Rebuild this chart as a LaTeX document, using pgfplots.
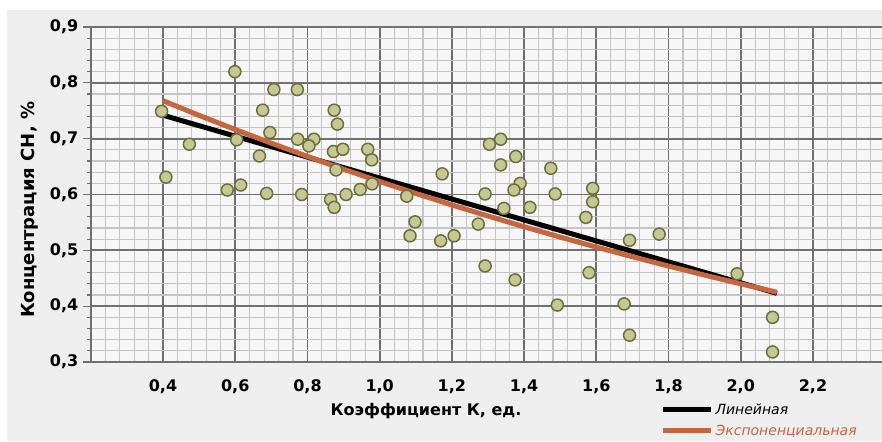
\documentclass[border=0pt]{standalone}
\usepackage{pgfplots}
\pgfplotsset{compat=1.18}
\usepackage{fontspec}
\setmainfont{DejaVu Sans}
\definecolor{bgc}{HTML}{EEEEEE}
\definecolor{plotbg}{HTML}{F6F6F6}
\definecolor{majgrid}{HTML}{707070}
\definecolor{mingrid}{HTML}{C4C4C4}
\definecolor{ptfill}{HTML}{C6C890}
\definecolor{ptedge}{HTML}{6B6E3E}
\definecolor{expc}{HTML}{C4663E}
\begin{document}
\begin{tikzpicture}
\fill[white] (0,0) rectangle (882pt,441pt);
\fill[bgc] (7pt,0) rectangle (882pt,431pt);
\begin{axis}[
  at={(90.8pt,79pt)}, anchor=south west,
  scale only axis, width=794.4pt, height=335pt,
  xmin=0.2, xmax=2.4, ymin=0.3, ymax=0.9,
  xtick={0.2,0.4,0.6,0.8,1.0,1.2,1.4,1.6,1.8,2.0,2.2,2.4},
  xticklabels={{},{0,4},{0,6},{0,8},{1,0},{1,2},{1,4},{1,6},{1,8},{2,0},{2,2},{}},
  ytick={0.3,0.4,0.5,0.6,0.7,0.8,0.9},
  yticklabels={{0,3},{0,4},{0,5},{0,6},{0,7},{0,8},{0,9}},
  minor x tick num=4, minor y tick num=4,
  grid=both,
  major grid style={draw=majgrid, line width=1.8pt},
  minor grid style={draw=mingrid, line width=1.1pt},
  axis line style={draw=majgrid, line width=1.8pt},
  axis background/.style={fill=plotbg},
  tick align=outside,
  major tick length=8pt, minor tick length=4pt,
  tick style={draw=majgrid, line width=1.3pt},
  xtick style={draw=none},
  ticklabel style={font=\bfseries\fontsize{16}{17}\selectfont},
  xticklabel style={yshift=-6pt},
  yticklabel style={xshift=-1pt},
  xlabel={Коэффициент К, ед.},
  ylabel={Концентрация CH, \%},
  xlabel style={font=\bfseries\fontsize{16}{18}\selectfont, at={(axis description cs:0.422,-0.146)}, anchor=center},
  ylabel style={font=\bfseries\fontsize{18}{20}\selectfont, at={(axis description cs:-0.0765,0.454)}, anchor=center, rotate=0},
  legend style={at={(axis description cs:0.717,-0.118)}, anchor=north west, draw=none, fill=none,
    font=\itshape\fontsize{14}{16}\selectfont, row sep=5pt, inner sep=0pt,
    nodes={inner sep=2pt, anchor=west}},
  legend image code/.code={\draw[#1] (0pt,0pt) -- (48pt,0pt);},
  legend cell align=left,
]
\addplot[only marks, mark=*, mark size=6pt, mark options={fill=ptfill, draw=ptedge, line width=1.5pt}, forget plot] coordinates {
(0.599,0.820) (0.707,0.788) (0.772,0.788) (0.676,0.751) (0.396,0.749)
(0.696,0.711) (0.604,0.698) (0.773,0.699) (0.818,0.699) (0.804,0.687)
(0.473,0.690) (0.667,0.669) (0.408,0.631) (0.578,0.608) (0.615,0.617)
(0.687,0.602) (0.784,0.600) (0.874,0.751) (0.883,0.726) (0.872,0.677)
(0.898,0.681) (0.967,0.681) (0.978,0.662) (0.879,0.644) (0.979,0.619)
(0.946,0.609) (0.907,0.600) (0.864,0.591) (0.874,0.577) (1.075,0.597)
(1.173,0.637) (1.098,0.551) (1.084,0.526) (1.169,0.517) (1.206,0.526)
(1.273,0.547) (1.304,0.690) (1.335,0.699) (1.377,0.668) (1.335,0.653)
(1.474,0.647) (1.389,0.620) (1.372,0.608) (1.292,0.601) (1.486,0.601)
(1.590,0.611) (1.590,0.587) (1.344,0.575) (1.416,0.577) (1.571,0.559)
(1.692,0.518) (1.292,0.472) (1.375,0.447) (1.580,0.460) (1.492,0.402)
(1.677,0.404) (1.774,0.529) (1.990,0.458) (1.692,0.348) (2.088,0.380)
(2.088,0.318)
};
\addplot[black, line width=5pt] coordinates {(0.4,0.742) (2.1,0.423)};
\addlegendentry{Линейная}
\addplot[expc, line width=5pt] coordinates {
(0.4,0.7680) (0.5,0.7417) (0.6,0.7164) (0.7,0.6919) (0.8,0.6682) (0.9,0.6453)
(1.0,0.6233) (1.1,0.6019) (1.2,0.5813) (1.3,0.5615) (1.4,0.5422) (1.5,0.5237)
(1.6,0.5058) (1.7,0.4885) (1.8,0.4718) (1.9,0.4556) (2.0,0.4400) (2.1,0.4250)};
\addlegendentry{\textcolor{expc}{Экспоненциальная}}
\end{axis}
\pgfresetboundingbox
\path[use as bounding box] (0,0) rectangle (882pt,441pt);
\end{tikzpicture}
\end{document}
